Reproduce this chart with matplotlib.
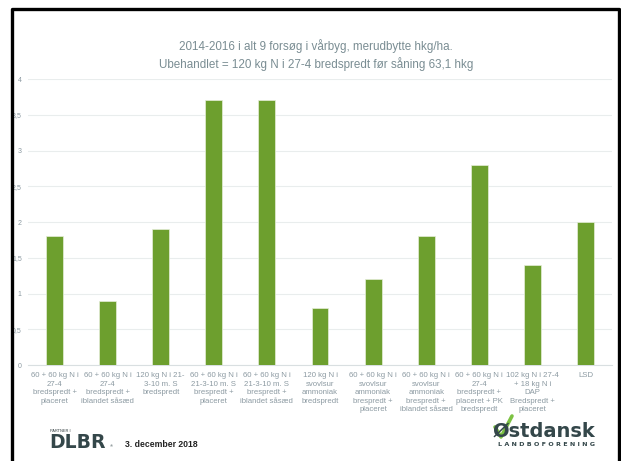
import matplotlib.pyplot as plt
from matplotlib.lines import Line2D

plt.rcParams["font.family"] = ["Liberation Sans", "DejaVu Sans"]

categories = [
    "60 + 60 kg N i\n27-4\nbredspredt +\nplaceret",
    "60 + 60 kg N i\n27-4\nbredspredt +\niblandet såsæd",
    "120 kg N i 21-\n3-10 m. S\nbredspredt",
    "60 + 60 kg N i\n21-3-10 m. S\nbrespredt +\nplaceret",
    "60 + 60 kg N i\n21-3-10 m. S\nbrespredt +\niblandet såsæd",
    "120 kg N i\nsvovlsur\nammoniak\nbredspredt",
    "60 + 60 kg N i\nsvovlsur\nammoniak\nbrespredt +\nplaceret",
    "60 + 60 kg N i\nsvovlsur\nammoniak\nbrespredt +\niblandet såsæd",
    "60 + 60 kg N i\n27-4\nbredspredt +\nplaceret + PK\nbredspredt",
    "102 kg N i 27-4\n+ 18 kg N i\nDAP\nBredspredt +\nplaceret",
    "LSD",
]
values = [1.8, 0.9, 1.9, 3.7, 3.7, 0.8, 1.2, 1.8, 2.8, 1.4, 2.0]
yticks = [0, 0.5, 1, 1.5, 2, 2.5, 3, 3.5, 4]
ytick_labels = ["0", "0,5", "1", "1,5", "2", "2,5", "3", "3,5", "4"]

title = ("2014-2016 i alt 9 forsøg i vårbyg, merudbytte hkg/ha.\n"
         "Ubehandlet = 120 kg N i 27-4 bredspredt før såning 63,1 hkg")

W, H = 621, 461
fig = plt.figure(figsize=(W / 100, H / 100), dpi=100)
fig.set_facecolor("white")

ax = fig.add_axes([28 / W, 1 - 365 / H, (612 - 28) / W, (365 - 79) / H])
x = range(len(categories))
ax.bar(x, values, width=0.32, color="#6d9f2e", edgecolor="#e6efd9",
       linewidth=0.5, zorder=3)
ax.set_xlim(-0.5, len(categories) - 0.5)
ax.set_ylim(0, 4)
ax.set_yticks(yticks)
ax.set_yticklabels(ytick_labels)
ax.set_xticks(list(x))
ax.set_xticklabels(categories, linespacing=1.32)
ax.tick_params(axis="y", length=0, pad=4.5, labelsize=5, labelcolor="#8c9aa2")
ax.tick_params(axis="x", length=0, pad=5, labelsize=5.6, labelcolor="#8c9aa2")
ax.grid(axis="y", color="#e9eded", linewidth=0.8, zorder=0)
for s in ["top", "right", "left"]:
    ax.spines[s].set_visible(False)
ax.spines["bottom"].set_color("#d9dfe1")
ax.spines["bottom"].set_linewidth(0.8)

fig.text(316 / W, 1 - 55 / H, title, ha="center", va="center",
         fontsize=8.4, color="#7a8d93", linespacing=1.3)

# footer
logo_font = "DejaVu Sans"
fig.text(50 / W, 1 - 431 / H, "PARTNER I", fontsize=2.8, color="#2f3b3d",
         va="center")
fig.text(49 / W, 1 - 442 / H, "DLBR", fontsize=13.5, fontweight="bold",
         family=logo_font, color="#34474a", va="center")
fig.text(110 / W, 1 - 446 / H, "®", fontsize=3, color="#34474a", va="center")
fig.text(125 / W, 1 - 444 / H, "3. december 2018", fontsize=6.2,
         fontweight="bold", color="#222222", va="center")

fig.text(493 / W, 1 - 431 / H, "Østdansk", fontsize=14, fontweight="bold",
         family=logo_font, color="#34474a", va="center")
fig.text(498 / W, 1 - 444 / H, "L A N D B O F O R E N I N G", fontsize=4.6,
         family=logo_font, fontweight="bold", color="#34474a", va="center")
fig.add_artist(Line2D([495 / W, 501 / W, 512 / W],
                      [1 - 427 / H, 1 - 437 / H, 1 - 416 / H],
                      color="#7cc242", linewidth=2.6,
                      solid_capstyle="round", transform=fig.transFigure))

# slide frame
fig.add_artist(Line2D([11.5 / W, 11.5 / W, 618.5 / W, 618.5 / W],
                      [0, 1 - 9.5 / H, 1 - 9.5 / H, 0],
                      color="black", linewidth=2.4,
                      transform=fig.transFigure, zorder=10))

fig.savefig("out.png", dpi=100)
